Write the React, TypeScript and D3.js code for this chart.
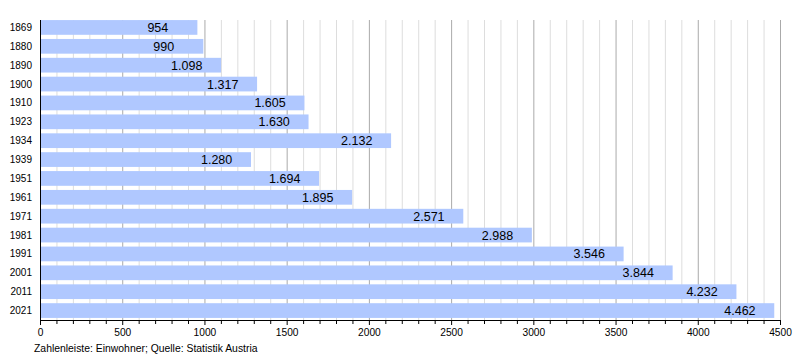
import React from "react";
import * as d3 from "d3";

const years = ["1869","1880","1890","1900","1910","1923","1934","1939","1951","1961","1971","1981","1991","2001","2011","2021"];
const population = [954,990,1098,1317,1605,1630,2132,1280,1694,1895,2571,2988,3546,3844,4232,4462];
const majorTicks = [0,500,1000,1500,2000,2500,3000,3500,4000,4500];
const footer = "Zahlenleiste: Einwohner; Quelle: Statistik Austria";

const W = 800, H = 360;
const FONT = "'Liberation Sans', Arial, sans-serif";

export default function App() {
  const x = d3.scaleLinear().domain([0, 4500]).range([40.5, 780.5]);
  const y = d3.scaleBand<string>().domain(years).range([18, 320]).paddingInner(0.22).paddingOuter(0.11);
  const minor = d3.range(0, 4501, 100);
  const fmt = (v: number) => d3.format(",")(v).replace(/,/g, ".");
  return (
    <svg width={W} height={H} style={{ position: "absolute", left: 0, top: 0, background: "#fff" }} fontFamily={FONT}>
      {minor.filter(v => v % 500 !== 0).map(v => (
        <line key={"mg" + v} x1={x(v)} x2={x(v)} y1={20} y2={320} stroke="#dddddd" strokeWidth={1} />
      ))}
      {majorTicks.filter(v => v !== 0).map(v => (
        <line key={"Mg" + v} x1={x(v)} x2={x(v)} y1={20} y2={320} stroke="#aaaaaa" strokeWidth={1} />
      ))}
      {years.map((yr, i) => (
        <rect key={"b" + yr} x={x(0)} y={y(yr)!} width={x(population[i]) - x(0)} height={y.bandwidth()} fill="#b0c8ff" />
      ))}
      {years.map((yr, i) => (
        <text key={"v" + yr} x={x(population[i]) - 50} y={y(yr)! + y.bandwidth() / 2 + 4.5} fontSize={12.5} fill="#000">
          {fmt(population[i])}
        </text>
      ))}
      {years.map(yr => (
        <text key={"c" + yr} x={32} y={y(yr)! + y.bandwidth() / 2 + 3.5} fontSize={10} textAnchor="end" fill="#000">
          {yr}
        </text>
      ))}
      <line x1={x(0)} x2={x(0)} y1={20} y2={320} stroke="#000" strokeWidth={1} />
      <line x1={x(0)} x2={x(4500)} y1={320.5} y2={320.5} stroke="#000" strokeWidth={1} />
      {minor.map(v => (
        <line key={"t" + v} x1={x(v)} x2={x(v)} y1={320} y2={v % 500 === 0 ? 325 : 324} stroke="#000" strokeWidth={1} />
      ))}
      {majorTicks.map(v => (
        <text key={"tl" + v} x={x(v)} y={336} fontSize={10.2} textAnchor="middle" fill="#000">{v}</text>
      ))}
      <text x={34} y={352} fontSize={10.4} fill="#000">{footer}</text>
    </svg>
  );
}
